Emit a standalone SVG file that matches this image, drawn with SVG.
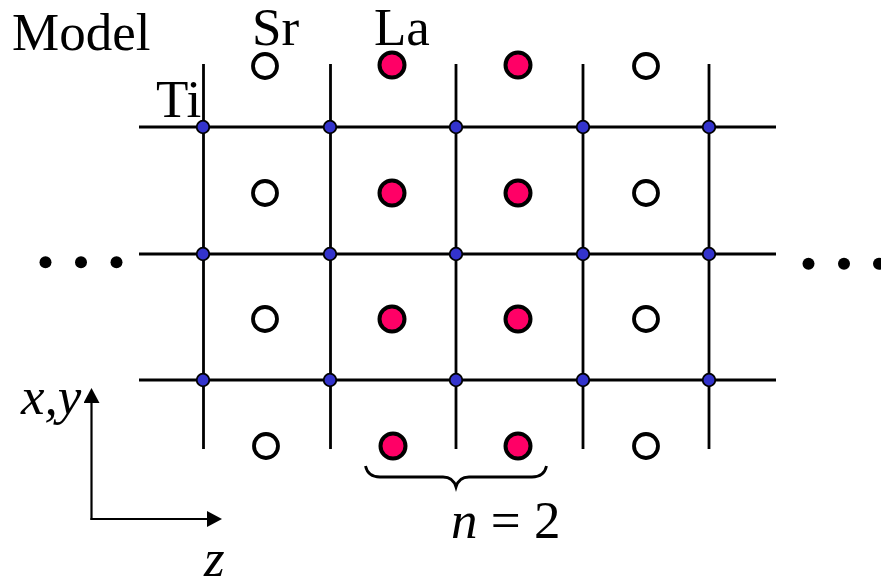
<svg xmlns="http://www.w3.org/2000/svg" width="881" height="581" viewBox="0 0 881 581">
<style>
.g{stroke:#000;stroke-width:2.8;fill:none}
.ax{stroke:#000;stroke-width:2.2;fill:none;marker-end:url(#head)}
.sr{fill:#fff;stroke:#000;stroke-width:3.8}
.la{fill:#f06;stroke:#000;stroke-width:4}
.ti{fill:#33c;stroke:#000;stroke-width:1.8}
.dot{fill:#000}
text{font-family:"Liberation Serif","Times New Roman",serif;fill:#000}
.i{font-style:italic}
</style>
<defs>
<marker id="head" markerUnits="userSpaceOnUse" markerWidth="16" markerHeight="16" refX="1" refY="8" orient="auto" viewBox="0 0 16 16"><path d="M0 0L15 8L0 16Z" fill="#000"/></marker>
</defs>
<rect width="881" height="581" fill="#fff"/>
<g id="connectors">
<path class="g" d="M139 127H776M139 254H776M139 380H776"/>
<path class="g" d="M203.500 64V449M330.500 64V449M456 64V449M583 64V449M709 64V449"/>
<path class="ax" d="M91.500 520V402"/>
<path class="ax" d="M90.500 519H208"/>
<path class="g" d="M365.500 466C367 473 372 477 380 477H443C450 477 454 480 456 487C458 480 462 477 469 477H532C540 477 545 473 546.500 466"/>
</g>
<g id="ti-atoms">
<circle class="ti" cx="203" cy="127" r="6.300"/><circle class="ti" cx="330" cy="127" r="6.300"/><circle class="ti" cx="456" cy="127" r="6.300"/><circle class="ti" cx="583" cy="127" r="6.300"/><circle class="ti" cx="709" cy="127" r="6.300"/>
<circle class="ti" cx="203" cy="254" r="6.300"/><circle class="ti" cx="330" cy="254" r="6.300"/><circle class="ti" cx="456" cy="254" r="6.300"/><circle class="ti" cx="583" cy="254" r="6.300"/><circle class="ti" cx="709" cy="254" r="6.300"/>
<circle class="ti" cx="203" cy="380" r="6.300"/><circle class="ti" cx="330" cy="380" r="6.300"/><circle class="ti" cx="456" cy="380" r="6.300"/><circle class="ti" cx="583" cy="380" r="6.300"/><circle class="ti" cx="709" cy="380" r="6.300"/>
</g>
<g id="sr-atoms">
<circle class="sr" cx="265" cy="66" r="12"/><circle class="sr" cx="646" cy="66" r="12"/>
<circle class="sr" cx="265" cy="193" r="12"/><circle class="sr" cx="646" cy="193" r="12"/>
<circle class="sr" cx="265" cy="319" r="12"/><circle class="sr" cx="646" cy="319" r="12"/>
<circle class="sr" cx="266" cy="446" r="12"/><circle class="sr" cx="646" cy="446" r="12"/>
</g>
<g id="la-atoms">
<circle class="la" cx="392" cy="65" r="12.500"/><circle class="la" cx="518" cy="65" r="12.500"/>
<circle class="la" cx="392" cy="193" r="12.500"/><circle class="la" cx="518" cy="193" r="12.500"/>
<circle class="la" cx="392" cy="319" r="12.500"/><circle class="la" cx="518" cy="319" r="12.500"/>
<circle class="la" cx="393" cy="446" r="12.500"/><circle class="la" cx="518" cy="446" r="12.500"/>
</g>
<g id="ellipsis">
<circle class="dot" cx="45.500" cy="262.300" r="6"/><circle class="dot" cx="81" cy="262.300" r="6"/><circle class="dot" cx="116.500" cy="262.300" r="6"/>
<circle class="dot" cx="808.500" cy="263.700" r="6"/><circle class="dot" cx="844" cy="263.700" r="6"/><circle class="dot" cx="879" cy="263.700" r="6"/>
</g>
<g id="labels" font-size="53">
<text x="12" y="50">Model</text>
<text x="252" y="45">Sr</text>
<text x="374" y="45">La</text>
<text x="156" y="117">Ti</text>
<text class="i" x="21" y="414">x,y</text>
<text class="i" x="204" y="576">z</text>
<text x="451" y="538"><tspan class="i">n</tspan> = 2</text>
</g>
</svg>
